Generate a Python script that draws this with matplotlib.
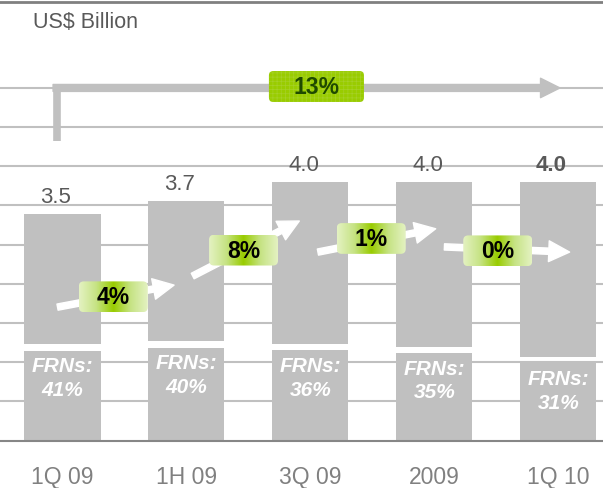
import numpy as np
import matplotlib
matplotlib.use("Agg")
import matplotlib.pyplot as plt
from matplotlib.patches import FancyBboxPatch
from matplotlib.colors import LinearSegmentedColormap

# data
periods = ["1Q 09", "1H 09", "3Q 09", "2009", "1Q 10"]
totals = [3.5, 3.7, 4.0, 4.0, 4.0]
total_labels = ["3.5", "3.7", "4.0", "4.0", "4.0"]
frn_share = [41, 40, 36, 35, 31]  # % of total
growth = ["4%", "8%", "1%", "0%"]
overall_growth = "13%"

# layout of the growth arrows (data coords)
arrow_start = [(-0.04, 2.06), (1.05, 2.54), (2.06, 2.91), (3.08, 2.99)]
arrow_tip = [(0.90, 2.40), (1.91, 3.39), (3.01, 3.27), (4.09, 2.91)]
box_center = [(0.41, 2.22), (1.46, 2.94), (2.49, 3.12), (3.51, 2.93)]

plt.rcParams["font.family"] = ["Liberation Sans", "DejaVu Sans"]
plt.rcParams["hatch.linewidth"] = 0.5

GRAY = "#c0c0c0"
fig = plt.figure(figsize=(6.03, 4.89), dpi=100)
ax = fig.add_axes([0, 47.5 / 489, 1, 439 / 489])

xlim = (-0.504, 4.359)
ylim = (0, 6.78)
aspect = 124 / 64.75  # px per x unit / px per y unit

# gridlines
for k in range(1, 10):
    ax.axhline(k * 0.605, color=GRAY, lw=1.5, zorder=0)

# bars: FRN part at the bottom, rest on top, with a white gap
gap = 0.1
x = np.arange(len(periods))
frn = np.array(frn_share) / 100 * np.array(totals)
ax.bar(x, frn - gap / 2, width=0.613, color=GRAY, zorder=2)
ax.bar(x, np.array(totals) - frn - gap / 2, bottom=frn + gap / 2, width=0.613,
       color=GRAY, zorder=2)

for i in range(len(periods)):
    ax.annotate(total_labels[i], (x[i], totals[i]), xytext=(-5, 5),
                textcoords="offset points", ha="center", va="bottom",
                fontsize=16, color="#595959",
                fontweight="bold" if i == len(periods) - 1 else "normal", zorder=5)
    ax.annotate("FRNs:\n%d%%" % frn_share[i], (x[i], frn[i] - gap / 2),
                xytext=(0, -4), textcoords="offset points", ha="center", va="top",
                fontsize=15, color="white", fontweight="bold", fontstyle="italic",
                linespacing=1.3, zorder=5)

# overall growth bracket arrow
y_top = 9 * 0.605
ax.plot([-0.044, -0.044], [4.63, y_top + 0.05], color=GRAY, lw=5.5,
        solid_capstyle="butt", zorder=3)
ax.annotate("", xy=(4.012, y_top), xytext=(-0.076, y_top),
            arrowprops=dict(arrowstyle="simple,head_width=14,head_length=14,tail_width=5",
                            mutation_scale=1, color=GRAY, shrinkA=0, shrinkB=0),
            zorder=3)
big = FancyBboxPatch((1.665, 5.228), 0.766, 0.478,
                     boxstyle="round,pad=0,rounding_size=0.035",
                     mutation_aspect=aspect, fc="#99cc00", ec="#a6d127",
                     lw=0, hatch="++++", zorder=4)
ax.add_patch(big)
ax.text(2.048, 5.467, overall_growth, ha="center", va="center", fontsize=16.5,
        fontweight="bold", color="#1f4a00", zorder=5)

# period-on-period growth arrows with gradient labels
green = LinearSegmentedColormap.from_list(
    "g", ["#e4f2c2", "#c6e384", "#99cc00", "#c6e384", "#e4f2c2"])
grad = np.linspace(0, 1, 256).reshape(1, -1)
bw, bh = 0.556, 0.475
for i in range(len(growth)):
    ax.annotate("", xy=arrow_tip[i], xytext=arrow_start[i],
                arrowprops=dict(arrowstyle="simple,head_width=15,head_length=15,tail_width=4.5",
                                mutation_scale=1, color="white", shrinkA=0, shrinkB=0),
                zorder=3)
    cx, cy = box_center[i]
    patch = FancyBboxPatch((cx - bw / 2, cy - bh / 2), bw, bh,
                           boxstyle="round,pad=0,rounding_size=0.04",
                           mutation_aspect=aspect, fc="none", ec="none", zorder=4)
    ax.add_patch(patch)
    im = ax.imshow(grad, cmap=green, aspect="auto", interpolation="bilinear",
                   extent=(cx - bw / 2, cx + bw / 2, cy - bh / 2, cy + bh / 2), zorder=4)
    im.set_clip_path(patch)
    ax.text(cx, cy, growth[i], ha="center", va="center", fontsize=16.5,
            fontweight="bold", color="black", zorder=5)

ax.set_xlim(xlim)
ax.set_ylim(ylim)
ax.set_xticks(x)
ax.set_xticklabels(periods, fontsize=16.5, color="#808080")
ax.tick_params(axis="x", length=0, pad=18)
ax.set_yticks([])
for s in ["left", "right"]:
    ax.spines[s].set_visible(False)
ax.spines["top"].set_color("#808080")
ax.spines["top"].set_linewidth(2)
ax.spines["bottom"].set_color("#868686")
ax.spines["bottom"].set_linewidth(1.5)

fig.text(33 / 603, 1 - 12 / 489, "US$ Billion", ha="left", va="top",
         fontsize=15.5, color="#595959")

fig.savefig("out.png", dpi=100)
